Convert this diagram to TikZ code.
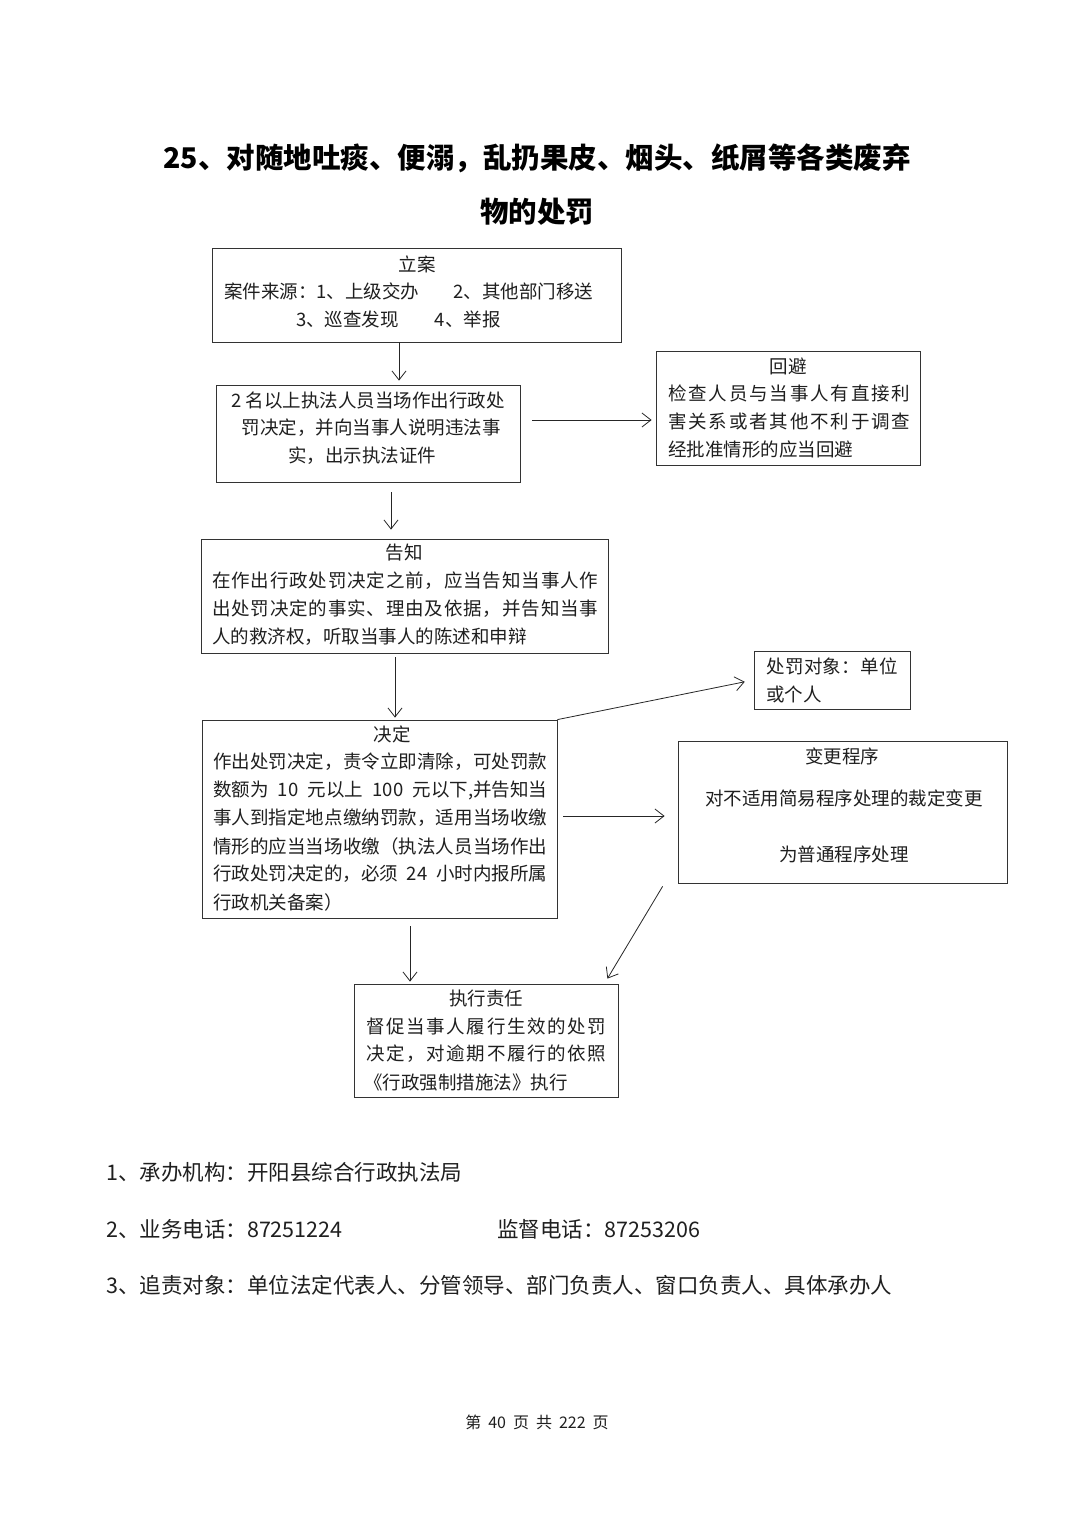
\documentclass[tikz,border=0pt]{standalone}
\usepackage{fontspec}
\newfontfamily\cjk{Noto Sans CJK SC}
\usetikzlibrary{arrows.meta,calc}
\def\spreadtext#1{\spreadfirst#1\relax}
\def\spreadfirst#1{#1\spreadaux}
\def\spreadaux#1{\ifx\relax#1\else\hfill#1\expandafter\spreadaux\fi}
\newcommand\spread[2]{\hbox to #1{\spreadtext{#2}}}
\begin{document}
\begin{tikzpicture}[x=1pt,y=-1pt,
  box/.style={draw=black!80, line width=0.8pt, inner sep=0pt, fill=none},
  txt/.style={font={\cjk\fontsize{18.5pt}{22pt}\selectfont}, inner sep=0pt, text=black!88},
  ttl/.style={font={\cjk\bfseries\fontsize{28.5pt}{32pt}\selectfont}, inner sep=0pt, text=black},
  foot/.style={font={\cjk\fontsize{21.5pt}{24pt}\selectfont}, inner sep=0pt, text=black!88, anchor=west},
  arr/.style={-{Straight Barb[length=9pt,width=14pt]}, line width=0.8pt, draw=black!85}]
\useasboundingbox[fill=white] (0,0) rectangle (1074,1520);
% title
\node[ttl] (t1) at (537,158) {25、对随地吐痰、便溺，乱扔果皮、烟头、纸屑等各类废弃};
\node[ttl] (t2) at (537,212) {物的处罚};
% boxes
\node[box, minimum width=409pt, minimum height=94pt] (la) at (416.5,295) {};
\node[box, minimum width=304pt, minimum height=97pt] (zf) at (368,433.5) {};
\node[box, minimum width=264pt, minimum height=114pt] (hb) at (788,408) {};
\node[box, minimum width=407pt, minimum height=114pt] (gz) at (404.5,596) {};
\node[box, minimum width=355pt, minimum height=198pt] (jd) at (379.5,819) {};
\node[box, minimum width=156pt, minimum height=58pt] (dx) at (832,680) {};
\node[box, minimum width=329pt, minimum height=142pt] (bg) at (842.5,812) {};
\node[box, minimum width=264pt, minimum height=113pt] (zx) at (486,1040.5) {};
% texts: 立案
\node[txt] (la0) at (417,264) {立案};
\node[txt, anchor=west] (la1) at (224,291) {案件来源：1、上级交办\hspace{34pt}2、其他部门移送};
\node[txt, anchor=west] (la2) at (296,319) {3、巡查发现\hspace{36pt}4、举报};
% 执法人员
\node[txt] (zf1) at (368,400) {2 名以上执法人员当场作出行政处};
\node[txt] (zf2) at (371,428) {罚决定，并向当事人说明违法事};
\node[txt] (zf3) at (362,456) {实，出示执法证件};
% 回避
\node[txt] (hb0) at (788,366) {回避};
\node[txt, anchor=west] (hb1) at (668,393) {\spread{242pt}{检查人员与当事人有直接利}};
\node[txt, anchor=west] (hb2) at (668,421) {\spread{242pt}{害关系或者其他不利于调查}};
\node[txt, anchor=west] (hb3) at (668,449) {经批准情形的应当回避};
% 告知
\node[txt] (gz0) at (404,553) {告知};
\node[txt, anchor=west] (gz1) at (212,581) {\spread{386pt}{在作出行政处罚决定之前，应当告知当事人作}};
\node[txt, anchor=west] (gz2) at (212,609) {\spread{386pt}{出处罚决定的事实、理由及依据，并告知当事}};
\node[txt, anchor=west] (gz3) at (212,637) {人的救济权，听取当事人的陈述和申辩};
% 决定
\node[txt] (jd0) at (392,734) {决定};
\node[txt, anchor=west] (jd1) at (213,762) {\spread{334pt}{作出处罚决定，责令立即清除，可处罚款}};
\node[txt, anchor=west] (jd2) at (213,790) {\hbox to 334pt{数额为 10 元以上 100 元以下,并告知当}};
\node[txt, anchor=west] (jd3) at (213,818) {\spread{334pt}{事人到指定地点缴纳罚款，适用当场收缴}};
\node[txt, anchor=west] (jd4) at (213,846) {\spread{334pt}{情形的应当当场收缴（执法人员当场作出}};
\node[txt, anchor=west] (jd5) at (213,874) {\hbox to 334pt{行政处罚决定的，必须 24 小时内报所属}};
\node[txt, anchor=west] (jd6) at (213,902) {行政机关备案）};
% 处罚对象
\node[txt, anchor=west] (dx1) at (766,666) {\spread{132pt}{处罚对象：单位}};
\node[txt, anchor=west] (dx2) at (766,694) {或个人};
% 变更程序
\node[txt] (bg0) at (842,756) {变更程序};
\node[txt] (bg1) at (844,798) {对不适用简易程序处理的裁定变更};
\node[txt] (bg2) at (844,854) {为普通程序处理};
% 执行责任
\node[txt] (zx0) at (486,998) {执行责任};
\node[txt, anchor=west] (zx1) at (366,1026) {\spread{240pt}{督促当事人履行生效的处罚}};
\node[txt, anchor=west] (zx2) at (366,1054) {\spread{240pt}{决定，对逾期不履行的依照}};
\node[txt, anchor=west] (zx3) at (364,1082) {《行政强制措施法》执行};
% arrows
\draw[arr, shorten >=4pt] (la.south -| 399,0) -- (zf.north -| 399,0);
\draw[arr, shorten <=12pt, shorten >=4pt] (zf.east |- 0,420) -- (hb.west |- 0,420);
\draw[arr, shorten <=10pt, shorten >=9pt] (zf.south -| 391,0) -- (gz.north -| 391,0);
\draw[arr, shorten <=4pt, shorten >=2pt] (gz.south -| 395,0) -- (jd.north -| 395,0);
\draw[arr, shorten >=9pt] (jd.north east) -- (dx.west |- 0,680);
\draw[arr, shorten <=6pt, shorten >=13pt] (jd.east |- 0,816) -- (bg.west |- 0,816);
\draw[arr, shorten <=8pt, shorten >=2pt] (jd.south -| 410,0) -- (zx.north -| 410,0);
\draw[arr] ($(bg.south west)+(-15,3)$) -- ($(zx.north east)+(-11,-5)$);
% footer
\node[foot] (f1) at (106,1172) {1、承办机构：开阳县综合行政执法局};
\node[foot] (f2) at (106,1229) {2、业务电话：87251224};
\node[foot] (f2b) at (497,1229) {监督电话：87253206};
\node[foot] (f3) at (106,1285) {3、追责对象：单位法定代表人、分管领导、部门负责人、窗口负责人、具体承办人};
\node[font={\cjk\fontsize{16pt}{18pt}\selectfont}, inner sep=0pt, text=black!88] (pg) at (537,1422) {第\hspace{7pt}40\hspace{7pt}页\hspace{7pt}共\hspace{7pt}222\hspace{7pt}页};
\end{tikzpicture}
\end{document}
